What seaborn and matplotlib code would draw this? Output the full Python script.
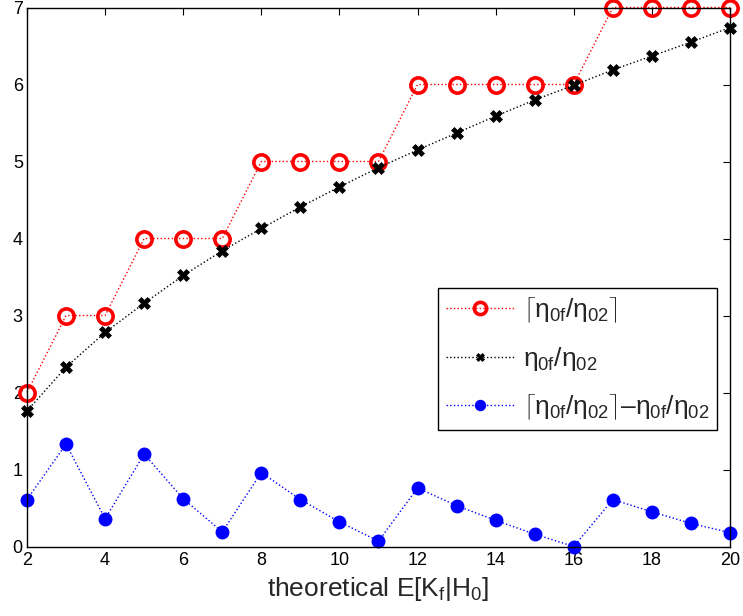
import numpy as np
import matplotlib
matplotlib.use("Agg")
import matplotlib.pyplot as plt
import seaborn as sns

x_vals = list(range(2, 21))
ceil_vals = [2, 3, 3, 4, 4, 4, 5, 5, 5, 5, 6, 6, 6, 6, 6, 7, 7, 7, 7]
ratio_vals = [1.76, 2.33, 2.78, 3.16, 3.52, 3.84, 4.13, 4.41, 4.67, 4.92,
              5.15, 5.37, 5.59, 5.80, 5.99, 6.19, 6.37, 6.55, 6.74]
diff_vals = [0.61, 1.33, 0.36, 1.20, 0.62, 0.19, 0.96, 0.61, 0.32, 0.07,
             0.76, 0.53, 0.34, 0.16, 0.00, 0.61, 0.45, 0.30, 0.18]
labels = [r'$\lceil\eta_{0f}/\eta_{02}\rceil$',
          r'$\eta_{0f}/\eta_{02}$',
          r'$\lceil\eta_{0f}/\eta_{02}\rceil$' + '\u2013' + r'$\eta_{0f}/\eta_{02}$']
x_ticks = list(range(2, 21, 2))
y_ticks = list(range(0, 8))

sns.set_style("white")
plt.rcParams['font.family'] = ['Liberation Sans', 'DejaVu Sans']
plt.rcParams['mathtext.fontset'] = 'custom'
plt.rcParams['mathtext.rm'] = 'Liberation Sans'
plt.rcParams['mathtext.it'] = 'Liberation Sans'
plt.rcParams['mathtext.bf'] = 'Liberation Sans:bold'

fig = plt.figure(figsize=(7.43, 6.16), dpi=100)
ax = fig.add_axes([27/743, 1 - 546.5/616, 703/743, 539/616])

sns.lineplot(x=x_vals, y=ceil_vals, ax=ax, color='red', linestyle=':', linewidth=1,
             marker='o', markersize=11, markerfacecolor='none',
             markeredgecolor='red', markeredgewidth=2.6, label=labels[0], clip_on=False)
sns.lineplot(x=x_vals, y=ratio_vals, ax=ax, color='black', linestyle=':', linewidth=1,
             marker='X', markersize=8, markerfacecolor='black',
             markeredgecolor='black', markeredgewidth=0.5, label=labels[1], clip_on=False)
sns.lineplot(x=x_vals, y=diff_vals, ax=ax, color='blue', linestyle=':', linewidth=1,
             marker='o', markersize=9, markerfacecolor='blue',
             markeredgecolor='blue', markeredgewidth=1, label=labels[2], clip_on=False)

ax.set_xlim(2, 20)
ax.set_ylim(0, 7)
ax.set_xticks(x_ticks)
ax.set_yticks(y_ticks)
ax.tick_params(direction='in', length=5, width=0.8, top=True, right=True,
               labelsize=13, pad=4, colors='black')
ax.tick_params(axis='y', pad=3)
for s in ax.spines.values():
    s.set_color('black')
    s.set_linewidth(1)
ax.set_xlabel(r'theoretical E[K$_f$|H$_0$]', fontsize=19, labelpad=4)

leg = ax.legend(loc='upper left', bbox_to_anchor=(0.585, 0.480), fontsize=19,
                frameon=True, fancybox=False, edgecolor='black', framealpha=1,
                handlelength=2.6, handletextpad=0.3, borderpad=0.3,
                labelspacing=0.75, borderaxespad=0, markerscale=0.8)
leg.get_frame().set_linewidth(1)

fig.savefig('out.png', dpi=100)
